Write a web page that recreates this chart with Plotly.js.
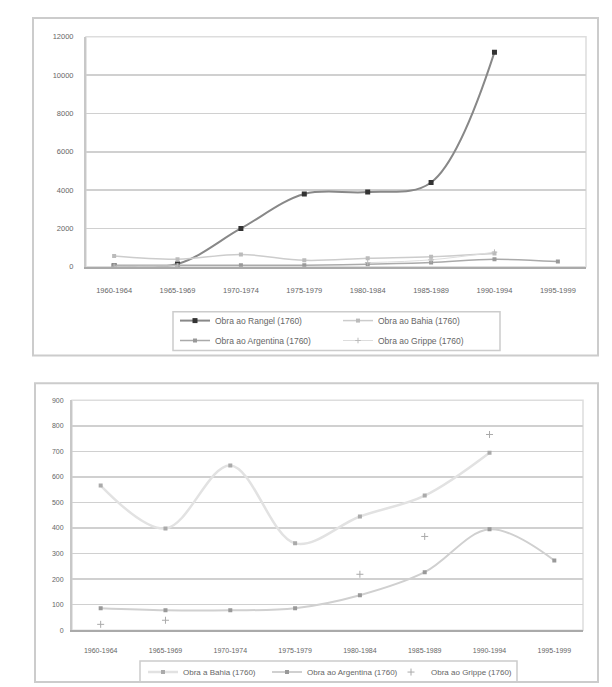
<!DOCTYPE html>
<html><head><meta charset="utf-8">
<script src="https://cdn.plot.ly/plotly-3.0.1.min.js"></script>
<style>html,body{margin:0;padding:0;background:#fff}</style>
</head><body><div id="chart" style="width:612px;height:687px"></div>
<script>
// ---- data ----
const periods = ['1960-1964','1965-1969','1970-1974','1975-1979','1980-1984','1985-1989','1990-1994','1995-1999'];
const rangel    = [50, 150, 2000, 3800, 3900, 4400, 11200, null];
const bahia     = [566, 398, 645, 340, 445, 527, 695, null];
const argentina = [86, 78, 78, 86, 137, 227, 395, 273];
const grippe    = [23, 39, null, null, 219, 367, 766, null];
const topTicks = [0, 2000, 4000, 6000, 8000, 10000, 12000];
const bottomTicks = [0, 100, 200, 300, 400, 500, 600, 700, 800, 900];
const nameRangel = 'Obra ao Rangel (1760)';
const nameBahia = 'Obra ao Bahia (1760)';
const nameBahia2 = 'Obra a Bahia (1760)';
const nameArgentina = 'Obra ao Argentina (1760)';
const nameGrippe = 'Obra ao Grippe (1760)';

const W = 612, H = 687;
const px = v => v / W, py = v => 1 - v / H;
const FAM = 'Liberation Sans, Arial, sans-serif';
const topTickFont = {family: FAM, size: 7.5, color: '#666'};
const botTickFont = {family: FAM, size: 7, color: '#666'};
const legFontTop = {family: FAM, size: 8.5, color: '#666'};
const legFontBot = {family: FAM, size: 8, color: '#666'};

const sp = {shape: 'spline', smoothing: 1};
const traces = [
  {x: periods, y: rangel, name: nameRangel, type: 'scatter', mode: 'lines+markers', xaxis: 'x', yaxis: 'y', legend: 'legend',
   line: Object.assign({color: '#888', width: 2}, sp), marker: {symbol: 'square', size: 5, color: '#333'}},
  {x: periods, y: bahia, name: nameBahia, type: 'scatter', mode: 'lines+markers', xaxis: 'x', yaxis: 'y', legend: 'legend',
   line: Object.assign({color: '#ccc', width: 1.5}, sp), marker: {symbol: 'square', size: 4, color: '#bbb'}},
  {x: periods, y: argentina, name: nameArgentina, type: 'scatter', mode: 'lines+markers', xaxis: 'x', yaxis: 'y', legend: 'legend2',
   line: Object.assign({color: '#aaa', width: 1.5}, sp), marker: {symbol: 'square', size: 4, color: '#999'}},
  {x: periods, y: grippe, name: nameGrippe, type: 'scatter', mode: 'lines+markers', xaxis: 'x', yaxis: 'y', legend: 'legend2',
   line: Object.assign({color: '#ddd', width: 1}, sp), marker: {symbol: 'cross-thin', size: 4, color: '#bbb', line: {color: '#bbb', width: 1}}},

  {x: periods, y: bahia, name: nameBahia2, type: 'scatter', mode: 'lines+markers', xaxis: 'x2', yaxis: 'y2', legend: 'legend3',
   line: Object.assign({color: '#e2e2e2', width: 2.5}, sp), marker: {symbol: 'square', size: 4, color: '#aaa'}},
  {x: periods, y: argentina, name: nameArgentina, type: 'scatter', mode: 'lines+markers', xaxis: 'x2', yaxis: 'y2', legend: 'legend3',
   line: Object.assign({color: '#d0d0d0', width: 2}, sp), marker: {symbol: 'square', size: 4, color: '#999'}},
  {x: periods, y: grippe, name: nameGrippe, type: 'scatter', mode: 'markers', xaxis: 'x2', yaxis: 'y2', legend: 'legend3',
   marker: {symbol: 'cross-thin', size: 5, color: '#aaa', line: {color: '#aaa', width: 1}}}
];

const xCommon = {type: 'category', showgrid: false, showline: true, linecolor: '#aaa', linewidth: 2, ticks: '',
  tickangle: 0, fixedrange: true, mirror: false};
const yCommon = {showgrid: true, gridcolor: '#d0d0d0', gridwidth: 1.5, showline: true, linecolor: '#c8c8c8', linewidth: 2,
  zeroline: false, ticks: '', fixedrange: true};

const layout = {
  width: W, height: H, margin: {l: 0, r: 0, t: 0, b: 0},
  paper_bgcolor: '#fff', plot_bgcolor: '#fff', showlegend: true,
  xaxis: Object.assign({}, xCommon, {domain: [px(86), px(586)], anchor: 'y', tickfont: topTickFont, ticklabelstandoff: 15}),
  yaxis: Object.assign({}, yCommon, {domain: [py(268), py(37)], anchor: 'x', range: [0, 12000], tickvals: topTicks, ticktext: topTicks.map(String), tickfont: topTickFont, ticklabelstandoff: 9}),
  xaxis2: Object.assign({}, xCommon, {domain: [px(72), px(583)], anchor: 'y2', tickfont: botTickFont, ticklabelstandoff: 12}),
  yaxis2: Object.assign({}, yCommon, {domain: [py(633), py(402)], anchor: 'x2', range: [0, 900], tickvals: bottomTicks, ticktext: bottomTicks.map(String), tickfont: botTickFont, ticklabelstandoff: 5}),
  legend: {orientation: 'h', x: px(175), xanchor: 'left', y: py(322), yanchor: 'middle', font: legFontTop, bgcolor: 'rgba(0,0,0,0)',
    entrywidth: 118, entrywidthmode: 'pixels', itemwidth: 30},
  legend2: {orientation: 'h', x: px(175), xanchor: 'left', y: py(342), yanchor: 'middle', font: legFontTop, bgcolor: 'rgba(0,0,0,0)',
    entrywidth: 118, entrywidthmode: 'pixels', itemwidth: 30},
  legend3: {orientation: 'h', x: px(143), xanchor: 'left', y: py(675), yanchor: 'middle', font: legFontBot, bgcolor: 'rgba(0,0,0,0)',
    entrywidth: 79, entrywidthmode: 'pixels', itemwidth: 30},
  shapes: [
    {type: 'rect', xref: 'paper', yref: 'paper', x0: px(33), x1: px(598), y0: py(357), y1: py(18), line: {color: '#ccc', width: 2}},
    {type: 'rect', xref: 'paper', yref: 'paper', x0: px(35), x1: px(598), y0: py(685), y1: py(385), line: {color: '#ccc', width: 2}},
    {type: 'rect', xref: 'paper', yref: 'paper', x0: px(86), x1: px(586), y0: py(268), y1: py(37), line: {color: '#ddd', width: 1.5}, layer: 'below'},
    {type: 'rect', xref: 'paper', yref: 'paper', x0: px(72), x1: px(583), y0: py(633), y1: py(402), line: {color: '#ddd', width: 1.5}, layer: 'below'},
    {type: 'rect', xref: 'paper', yref: 'paper', x0: px(173), x1: px(500), y0: py(352), y1: py(313), line: {color: '#ccc', width: 1.5}},
    {type: 'rect', xref: 'paper', yref: 'paper', x0: px(140), x1: px(517), y0: py(685), y1: py(664), line: {color: '#ccc', width: 1.5}}
  ]
};

Plotly.newPlot('chart', traces, layout, {staticPlot: true, displayModeBar: false});
</script>
</body></html>
